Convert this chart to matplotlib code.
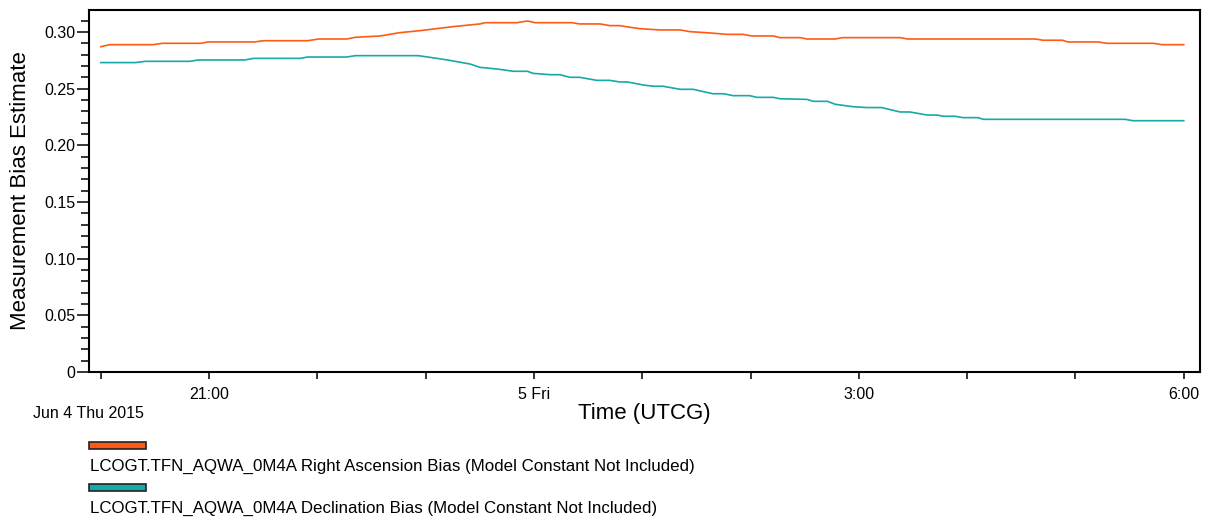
import matplotlib
matplotlib.use("Agg")
import matplotlib.pyplot as plt
from matplotlib.patches import Rectangle
from matplotlib.ticker import FixedLocator, MultipleLocator, FixedFormatter

plt.rcParams['font.family'] = ['Liberation Sans', 'DejaVu Sans']

# hours relative to Jun 5 2015 00:00 UTCG
ra_t = [-4.0, -3.92, -3.52, -3.43, -3.08, -3.01, -2.58, -2.50, -2.09, -1.99,
        -1.73, -1.65, -1.42, -1.24, -1.05, -0.75, -0.50, -0.45, -0.16, -0.06,
        0.01, 0.35, 0.42, 0.61, 0.70, 0.79, 0.89, 0.98, 1.16, 1.35,
        1.44, 1.63, 1.78, 1.93, 2.01, 2.21, 2.27, 2.46, 2.52, 2.78,
        2.85, 3.38, 3.45, 4.63, 4.70, 4.88, 4.93, 5.21, 5.29, 5.72,
        5.80, 6.0]
ra_bias = [0.2871, 0.2889, 0.2889, 0.2901, 0.2901, 0.2913, 0.2913, 0.2924, 0.2924, 0.2939,
           0.2939, 0.2954, 0.2966, 0.2995, 0.3013, 0.3048, 0.3072, 0.3083, 0.3083, 0.3098,
           0.3083, 0.3083, 0.3072, 0.3072, 0.3057, 0.3057, 0.3042, 0.3030, 0.3019, 0.3019,
           0.3004, 0.2992, 0.2980, 0.2980, 0.2966, 0.2966, 0.2951, 0.2951, 0.2939, 0.2939,
           0.2951, 0.2951, 0.2939, 0.2939, 0.2928, 0.2928, 0.2913, 0.2913, 0.2901, 0.2901,
           0.2889, 0.2889]

dec_t = [-4.0, -3.68, -3.59, -3.18, -3.10, -2.67, -2.59, -2.16, -2.09, -1.73,
         -1.65, -1.07, -0.96, -0.80, -0.59, -0.50, -0.34, -0.19, -0.06, -0.01,
         0.15, 0.24, 0.33, 0.42, 0.58, 0.70, 0.79, 0.86, 1.01, 1.10,
         1.19, 1.35, 1.47, 1.65, 1.75, 1.84, 1.99, 2.06, 2.21, 2.27,
         2.52, 2.58, 2.71, 2.78, 2.94, 3.07, 3.21, 3.38, 3.47, 3.63,
         3.72, 3.78, 3.89, 3.96, 4.10, 4.15, 5.46, 5.53, 6.0]
dec_bias = [0.2731, 0.2731, 0.2742, 0.2742, 0.2754, 0.2754, 0.2768, 0.2768, 0.2780, 0.2780,
            0.2792, 0.2792, 0.2777, 0.2754, 0.2718, 0.2689, 0.2674, 0.2654, 0.2654, 0.2636,
            0.2624, 0.2624, 0.2601, 0.2601, 0.2574, 0.2574, 0.2560, 0.2560, 0.2533, 0.2522,
            0.2522, 0.2495, 0.2495, 0.2456, 0.2456, 0.2439, 0.2439, 0.2424, 0.2424, 0.2412,
            0.2406, 0.2389, 0.2389, 0.2363, 0.2342, 0.2334, 0.2334, 0.2295, 0.2295, 0.2268,
            0.2268, 0.2257, 0.2257, 0.2245, 0.2245, 0.2230, 0.2230, 0.2218, 0.2218]

x_major = [-3, 0, 3, 6]
x_labels = ['21:00', '5 Fri', '3:00', '6:00']
x_minor = [-4, -2, -1, 1, 2, 4, 5]
y_labels = ['0', '0.05', '0.10', '0.15', '0.20', '0.25', '0.30']

ra_name = 'LCOGT.TFN_AQWA_0M4A Right Ascension Bias (Model Constant Not Included)'
dec_name = 'LCOGT.TFN_AQWA_0M4A Declination Bias (Model Constant Not Included)'
orange = '#ff5a14'
teal = '#17a8a8'

W, H = 1209, 519
fig = plt.figure(figsize=(W / 100, H / 100), dpi=100)
ax = fig.add_axes([89 / W, 1 - 372 / H, 1111 / W, 362 / H])

ax.plot(ra_t, ra_bias, color=orange, lw=1.2)
ax.plot(dec_t, dec_bias, color=teal, lw=1.2)

ax.set_xlim(-4.11, 6.15)
ax.set_ylim(0, 0.3195)

ax.xaxis.set_major_locator(FixedLocator(x_major))
ax.xaxis.set_major_formatter(FixedFormatter(x_labels))
ax.xaxis.set_minor_locator(FixedLocator(x_minor))
ax.yaxis.set_major_locator(FixedLocator([0.05 * i for i in range(7)]))
ax.yaxis.set_major_formatter(FixedFormatter(y_labels))
ax.yaxis.set_minor_locator(MultipleLocator(0.01))

ax.tick_params(axis='x', which='both', direction='out', length=5, width=1.1,
               pad=6, labelsize=11.5)
ax.tick_params(axis='y', which='major', direction='out', length=9, width=1.1,
               pad=1, labelsize=11.5)
ax.tick_params(axis='y', which='minor', direction='out', length=6, width=1.1)

for s in ax.spines.values():
    s.set_linewidth(1.5)
    s.set_color('black')

ax.set_xlabel('Time (UTCG)', fontsize=16)
ax.xaxis.set_label_coords(0.5, -(414 - 372) / 362)
ax.xaxis.label.set_va('center')
ax.set_ylabel('Measurement Bias Estimate', fontsize=16)
ax.yaxis.set_label_coords(-(89 - 21) / 1111, 0.5)
ax.yaxis.label.set_va('center')

fig.text(33 / W, 1 - 414 / H, 'Jun 4 Thu 2015', fontsize=11.5, va='center', ha='left')

# legend: swatch above its label
for color, name, top in [(orange, ra_name, 442), (teal, dec_name, 484)]:
    fig.patches.append(Rectangle((89 / W, 1 - (top + 7) / H), 57 / W, 7 / H,
                                 transform=fig.transFigure, facecolor=color,
                                 edgecolor='#222222', linewidth=1.2))
    fig.text(90 / W, 1 - (top + 24) / H, name, fontsize=12.2, va='center', ha='left')

fig.savefig('out.png', dpi=100)
